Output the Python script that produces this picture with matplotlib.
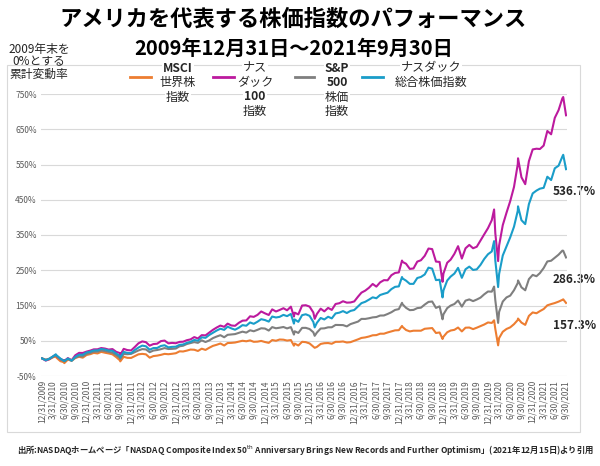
import matplotlib
matplotlib.use('Agg')
import matplotlib.pyplot as plt
from matplotlib.lines import Line2D
from matplotlib.patches import Rectangle
import pandas as pd

plt.rcParams['font.family'] = ['Noto Sans CJK JP', 'DejaVu Sans']

# month-end dates + a few daily extremes
months = pd.date_range('2009-12-31', '2021-09-30', freq='ME')
extra_dates = pd.to_datetime(['2010-04-23', '2010-07-02', '2011-10-03', '2015-08-25',
                              '2016-02-11', '2018-01-26', '2018-12-24', '2020-02-19',
                              '2020-03-23', '2020-09-02', '2021-09-07'])

# cumulative change (%) from end of 2009
msci = [0.0,
        -4.2, -3.0, 3.0, 1.5, -8.0, -11.0, -3.5, -7.0, 1.0, 4.5, 2.0, 9.6,
        12.0, 15.5, 14.0, 18.5, 16.0, 14.0, 11.5, 3.5, -5.5, 4.5, 1.5, 1.3,
        6.5, 11.5, 12.8, 11.5, 2.0, 6.5, 7.8, 10.0, 12.8, 11.8, 13.0, 14.6,
        20.0, 19.5, 22.0, 25.0, 24.5, 21.0, 27.5, 24.0, 30.0, 35.5, 38.5, 42.2,
        36.5, 43.5, 44.0, 45.0, 47.5, 50.0, 48.5, 51.0, 47.0, 47.5, 49.5, 46.4,
        44.0, 52.0, 50.0, 53.5, 53.0, 50.5, 52.0, 42.0, 36.5, 47.0, 46.0, 42.4,
        33.5, 32.5, 41.0, 43.0, 43.5, 41.5, 47.0, 47.0, 48.0, 45.0, 46.0, 49.9,
        54.0, 58.0, 59.5, 62.0, 65.5, 66.0, 70.0, 70.0, 73.5, 76.5, 79.5, 80.0,
        89.0, 80.5, 76.5, 78.5, 78.5, 78.5, 84.0, 85.0, 86.0, 72.0, 73.5, 61.3,
        74.0, 79.0, 81.0, 87.5, 76.5, 87.0, 87.5, 83.0, 87.0, 91.5, 96.0, 101.9,
        100.5, 83.5, 57.5, 75.5, 83.5, 88.0, 97.0, 109.0, 101.5, 95.0, 120.5, 130.3,
        128.0, 134.0, 140.0, 150.5, 154.0, 157.0, 161.0, 166.0, 157.3]
msci_extra = [5.0, -13.5, -8.5, 36.0, 30.0, 92.0, 55.0, 108.0, 37.0, 113.0, 167.5]

nasdaq100 = [0.0,
             -6.4, -2.3, 5.2, 6.0, -2.3, -5.7, 0.8, -5.2, 8.9, 15.6, 15.3, 19.2,
             22.1, 25.6, 25.7, 29.3, 27.8, 24.9, 26.4, 18.5, 15.0, 27.0, 23.5, 22.5,
             32.6, 42.8, 48.1, 46.0, 36.1, 40.6, 41.6, 49.0, 50.5, 42.6, 43.9, 43.0,
             46.8, 47.2, 51.5, 53.8, 60.4, 56.4, 65.9, 65.2, 73.0, 81.0, 87.4, 93.1,
             89.5, 98.6, 93.3, 92.4, 100.9, 107.0, 107.6, 119.4, 117.7, 123.5, 133.1, 127.7,
             123.1, 139.0, 133.0, 137.3, 142.3, 136.4, 146.7, 129.7, 124.7, 149.9, 150.8, 146.9,
             130.1, 125.9, 141.0, 133.4, 143.2, 137.5, 154.3, 156.5, 162.1, 158.1, 158.6, 161.5,
             175.2, 186.5, 192.2, 200.2, 211.1, 203.6, 215.7, 221.9, 221.5, 235.9, 242.3, 243.9,
             273.6, 268.5, 253.8, 255.1, 274.5, 278.4, 290.9, 311.6, 310.0, 274.6, 273.6, 240.3,
             271.3, 280.0, 296.6, 318.3, 283.1, 312.3, 321.9, 312.4, 316.6, 334.6, 351.8, 369.4,
             391.9, 354.9, 320.0, 377.9, 413.6, 446.0, 486.3, 551.0, 513.8, 494.2, 559.5, 592.8,
             594.8, 593.9, 603.7, 645.1, 635.7, 682.3, 704.2, 737.7, 689.6]
nasdaq100_extra = [10.2, -7.1, 9.4, 118.7, 112.2, 277.5, 217.2, 422.4, 276.0, 567.6, 741.4]

sp500 = [0.0,
         -3.7, -1.0, 4.9, 6.4, -2.3, -7.6, -1.2, -5.9, 2.3, 6.1, 5.9, 12.8,
         15.3, 19.0, 18.9, 22.3, 20.6, 18.4, 15.9, 9.3, 1.5, 12.4, 11.8, 12.8,
         17.7, 22.5, 26.3, 25.4, 17.5, 22.2, 23.7, 26.1, 29.2, 26.6, 27.0, 27.9,
         34.3, 35.8, 40.7, 43.3, 46.2, 44.0, 51.2, 46.4, 50.8, 57.5, 61.9, 65.8,
         59.9, 66.8, 67.9, 68.9, 72.5, 75.8, 73.1, 79.7, 76.9, 81.0, 85.4, 84.6,
         78.9, 88.7, 85.4, 87.0, 89.0, 85.0, 88.7, 76.9, 72.2, 86.5, 86.6, 83.3,
         74.0, 73.3, 84.7, 85.2, 88.1, 88.2, 94.9, 94.7, 94.4, 90.7, 97.2, 100.8,
         104.4, 112.0, 111.9, 113.8, 116.3, 117.3, 121.5, 121.7, 125.9, 130.9, 137.4, 139.8,
         153.2, 143.4, 136.8, 137.5, 142.6, 143.8, 152.6, 160.2, 161.3, 143.2, 147.5, 124.8,
         142.5, 149.7, 154.2, 164.2, 146.8, 163.8, 167.3, 162.4, 166.9, 172.4, 181.7, 189.7,
         189.3, 164.9, 131.8, 161.2, 173.0, 178.0, 193.3, 213.9, 201.6, 193.2, 224.8, 236.8,
         233.1, 241.8, 256.3, 275.0, 277.0, 285.4, 294.2, 305.6, 286.3]
sp500_extra = [9.1, -8.3, -1.4, 67.5, 64.0, 157.6, 110.8, 203.7, 100.6, 221.1, 305.3]

nasdaq_comp = [0.0,
               -5.4, -1.4, 5.7, 8.5, -0.5, -7.0, -0.6, -6.8, 4.4, 10.5, 10.1, 16.9,
               19.0, 22.6, 22.6, 26.6, 24.9, 22.2, 21.5, 13.7, 6.4, 18.3, 15.5, 14.8,
               24.0, 30.7, 36.2, 34.3, 24.6, 29.3, 29.5, 35.2, 37.3, 31.2, 32.7, 33.1,
               38.5, 39.3, 44.0, 46.7, 52.3, 50.0, 59.8, 58.2, 66.2, 72.7, 78.9, 84.1,
               80.9, 89.9, 85.0, 81.3, 87.0, 94.3, 92.6, 101.9, 98.0, 104.1, 111.2, 108.7,
               104.3, 118.7, 116.0, 117.8, 123.4, 119.8, 126.0, 110.5, 103.6, 122.7, 125.1, 120.7,
               103.3, 100.9, 114.6, 110.4, 118.1, 113.4, 127.5, 129.7, 134.1, 128.7, 134.6, 137.2,
               147.4, 156.7, 160.5, 166.5, 173.2, 170.6, 179.8, 183.3, 186.3, 196.5, 202.9, 204.2,
               226.6, 220.5, 211.3, 211.4, 228.0, 231.0, 238.1, 257.4, 254.6, 222.0, 223.1, 192.4,
               220.9, 232.0, 240.6, 256.8, 228.5, 252.8, 260.3, 250.9, 252.5, 265.4, 281.9, 295.4,
               303.3, 277.6, 239.3, 291.8, 318.2, 343.3, 373.5, 418.9, 392.1, 380.9, 437.6, 468.0,
               476.0, 481.4, 483.8, 515.3, 505.9, 539.2, 546.6, 572.5, 536.7]
nasdaq_comp_extra = [11.5, -7.8, 2.9, 98.6, 88.0, 230.8, 172.9, 332.6, 202.3, 431.3, 577.5]

series_names = ['MSCI\n世界株\n指数', 'ナス\nダック\n100\n指数', 'S&P\n500\n株価\n指数', 'ナスダック\n総合株価指数']
series_monthly = [msci, nasdaq100, sp500, nasdaq_comp]
series_extra = [msci_extra, nasdaq100_extra, sp500_extra, nasdaq_comp_extra]
end_labels = ['157.3%', None, '286.3%', '536.7%']
colors = ['#ED7D31', '#BC1A9E', '#7F7F7F', '#1A9DC9']

tick_dates = pd.date_range('2009-12-31', '2021-09-30', freq='QE')
tick_labels = [f'{d.month}/{d.day}/{d.year}' for d in tick_dates]
y_ticks = list(range(-50, 751, 100))

W, H = 600, 466


def fx(px):
    return px / W


def fy(py):
    return 1 - py / H


fig = plt.figure(figsize=(6, 4.66), dpi=100)
ax = fig.add_axes([fx(41), fy(376), fx(526), 282 / H])

for monthly, extra, color, lab in zip(series_monthly, series_extra, colors, end_labels):
    s = pd.concat([pd.Series(monthly, index=months),
                   pd.Series(extra, index=extra_dates)]).sort_index()
    ax.plot(s.index, s.values, color=color, lw=1.5)
    if lab:
        ax.annotate(lab, (s.index[-1], s.values[-1]), xytext=(6, -16),
                    textcoords='offset points', ha='center', va='center',
                    fontsize=8.5, weight='bold', color='#262626')

ax.set_xlim(months[0] - pd.Timedelta(days=8), months[-1] + pd.Timedelta(days=8))
ax.set_ylim(-50, 750)
ax.set_yticks(y_ticks, [f'{v}%' for v in y_ticks])
ax.set_xticks(tick_dates, tick_labels, rotation=90)
ax.tick_params(length=0, labelsize=6, colors='#595959', pad=3)
ax.grid(axis='y', color='#D9D9D9', lw=0.8)
ax.set_axisbelow(True)
for sp in ax.spines.values():
    sp.set_visible(False)

# chart border
fig.add_artist(Rectangle((fx(7), fy(432)), fx(573), (432 - 65) / H,
                         transform=fig.transFigure, fill=False,
                         ec='#D9D9D9', lw=0.8))

# legend drawn by hand (line + stacked text)
leg_lines = [(130, 151), (213, 234), (295, 314), (362, 383)]
leg_text_x = [178, 255, 337, 431]
for name, color, (x1, x2), tx in zip(series_names, colors, leg_lines, leg_text_x):
    fig.add_artist(Line2D([fx(x1), fx(x2)], [fy(77), fy(77)], color=color, lw=2,
                          transform=fig.transFigure))
    for i, line in enumerate(name.split('\n')):
        fig.text(fx(tx), fy(68 + 14.5 * i), line, ha='center', va='center',
                 fontsize=8.7, weight='bold' if line.isascii() else 'normal',
                 color='#262626',
                 bbox=dict(facecolor='white', edgecolor='none', pad=0.6))

fig.text(fx(293), fy(19), 'アメリカを代表する株価指数のパフォーマンス',
         ha='center', va='center', fontsize=16, weight='bold')
fig.text(fx(294), fy(48), '2009年12月31日～2021年9月30日',
         ha='center', va='center', fontsize=14.5, weight='bold')
fig.text(fx(39), fy(43), '2009年末を\n0%とする\n累計変動率', ha='center', va='top',
         fontsize=8.5, linespacing=0.95, color='#262626')

fig.text(fx(17), fy(451),
         '出所:NASDAQホームページ「NASDAQ Composite Index 50$^{\\mathrm{th}}$ Anniversary '
         'Brings New Records and Further Optimism」(2021年12月15日)より引用',
         ha='left', va='center', fontsize=6, weight='bold', color='#262626')

fig.savefig('out.png', dpi=100)
